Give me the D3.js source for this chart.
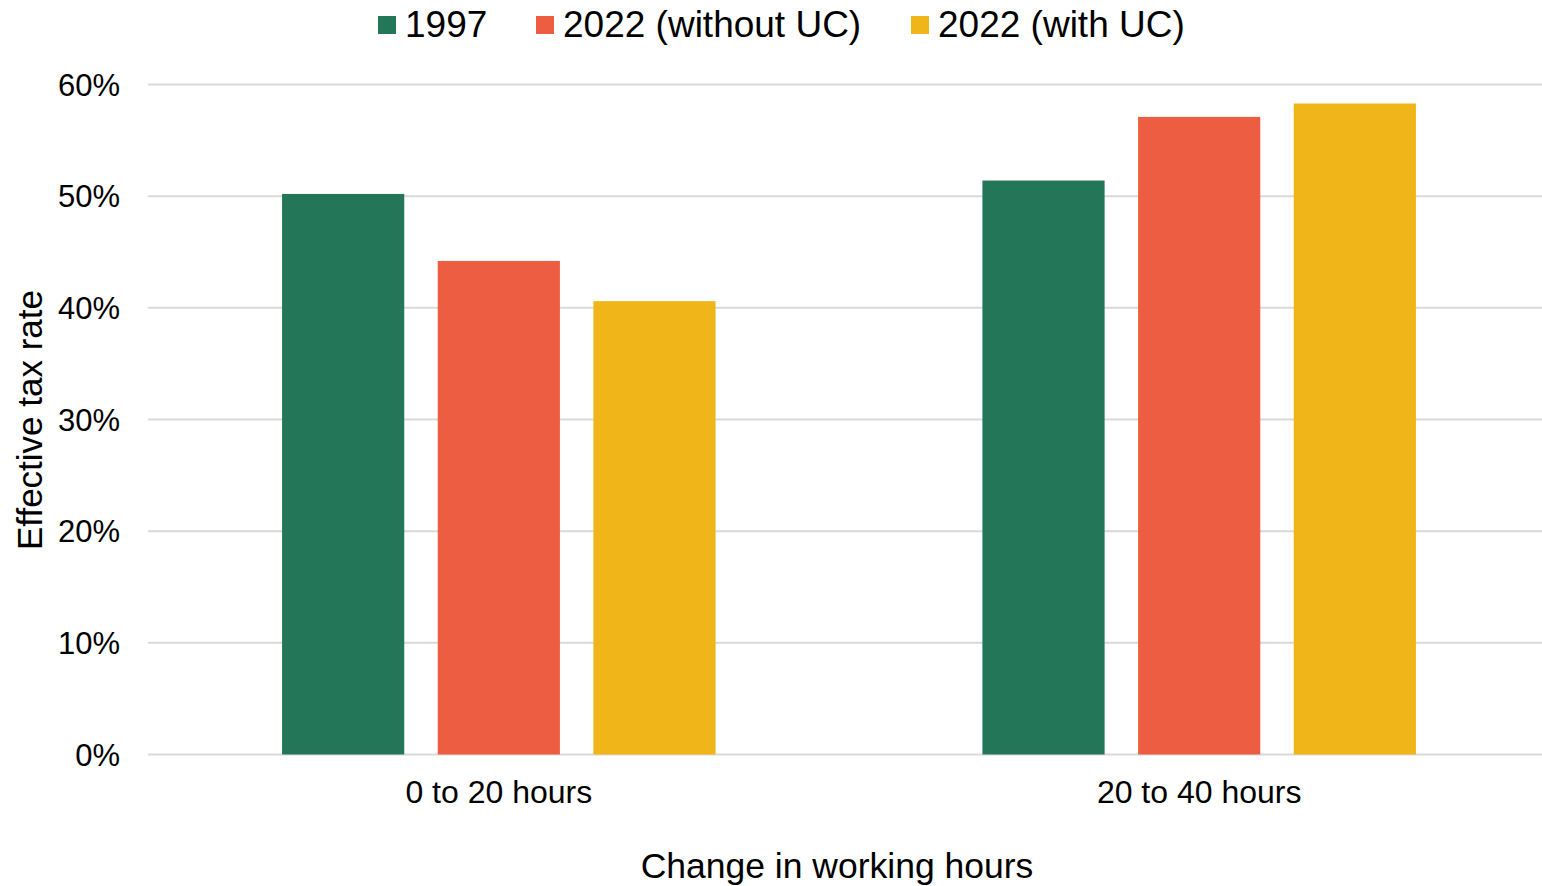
<!DOCTYPE html>
<html>
<head>
<meta charset="utf-8">
<script src="https://cdn.jsdelivr.net/npm/d3@7"></script>
<style>
  body { margin: 0; background: #fff; }
  text { font-family: "Liberation Sans", Arial, sans-serif; fill: #000; }
</style>
</head>
<body>
<div id="chart"></div>
<script>
// data
var categories = ["0 to 20 hours", "20 to 40 hours"];
var seriesNames = ["1997", "2022 (without UC)", "2022 (with UC)"];
var values1997 = [50.2, 51.4];
var valuesNoUC = [44.2, 57.1];
var valuesUC = [40.6, 58.3];
var yTicks = [0, 10, 20, 30, 40, 50, 60];

var colors = ["#237657", "#ec5d42", "#f0b619"];
var seriesValues = [values1997, valuesNoUC, valuesUC];

var svgWidth = 1542;
var svgHeight = 886;

var svg = d3.select("#chart")
  .append("svg")
  .attr("width", svgWidth)
  .attr("height", svgHeight);

// scales
var x0 = d3.scaleBand()
  .domain(categories)
  .range([149, 1549])
  .paddingInner(0.381)
  .paddingOuter(0.19);

var x1 = d3.scaleBand()
  .domain(seriesNames)
  .range([0, x0.bandwidth()])
  .paddingInner(0.215);

var y = d3.scaleLinear()
  .domain([0, 60])
  .range([754.5, 84.5]);

// gridlines
svg.append("g")
  .selectAll("line")
  .data(yTicks)
  .enter()
  .append("line")
  .attr("x1", 148)
  .attr("x2", 1548)
  .attr("y1", d => y(d))
  .attr("y2", d => y(d))
  .attr("stroke", "#d9d9d9")
  .attr("stroke-width", 2);

// y tick labels
svg.append("g")
  .selectAll("text")
  .data(yTicks)
  .enter()
  .append("text")
  .attr("x", 120)
  .attr("y", d => y(d))
  .attr("dy", "0.36em")
  .attr("text-anchor", "end")
  .attr("font-size", "31px")
  .text(d => d + "%");

// bars
var rows = categories.map(function (c, i) {
  return seriesNames.map(function (s, j) {
    return { cat: c, name: s, value: seriesValues[j][i], color: colors[j] };
  });
});

svg.append("g")
  .selectAll("g")
  .data(rows)
  .enter()
  .append("g")
  .attr("transform", (d, i) => `translate(${x0(categories[i])},0)`)
  .selectAll("rect")
  .data(d => d)
  .enter()
  .append("rect")
  .attr("x", d => x1(d.name))
  .attr("width", x1.bandwidth())
  .attr("y", d => y(d.value))
  .attr("height", d => y(0) - y(d.value))
  .attr("fill", d => d.color);

// category labels
svg.append("g")
  .selectAll("text")
  .data(categories)
  .enter()
  .append("text")
  .attr("x", d => x0(d) + x0.bandwidth() / 2)
  .attr("y", 803)
  .attr("text-anchor", "middle")
  .attr("font-size", "32px")
  .text(d => d);

// axis titles
svg.append("text")
  .attr("x", 837)
  .attr("y", 878)
  .attr("text-anchor", "middle")
  .attr("font-size", "35.5px")
  .text("Change in working hours");

svg.append("text")
  .attr("transform", "translate(42, 420) rotate(-90)")
  .attr("text-anchor", "middle")
  .attr("font-size", "35px")
  .text("Effective tax rate");

// legend
var legendX = [378, 536, 911];
var legend = svg.append("g")
  .selectAll("g")
  .data(seriesNames)
  .enter()
  .append("g")
  .attr("transform", (d, i) => `translate(${legendX[i]},0)`);

legend.append("rect")
  .attr("x", 0)
  .attr("y", 16)
  .attr("width", 18)
  .attr("height", 18)
  .attr("fill", (d, i) => colors[i]);

legend.append("text")
  .attr("x", 27)
  .attr("y", 37)
  .attr("font-size", "37px")
  .text(d => d);
</script>
</body>
</html>
